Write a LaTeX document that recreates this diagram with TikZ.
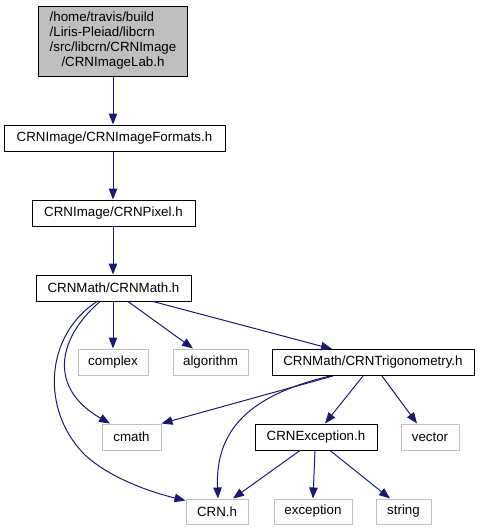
\documentclass[tikz,border=0pt]{standalone}
\usepackage{fontspec}
\setmainfont{Liberation Sans}
\usetikzlibrary{arrows.meta}
\definecolor{edgecol}{HTML}{191970}
\definecolor{graybd}{HTML}{BFBFBF}
\tikzset{
  box/.style={draw=black, line width=1pt, rectangle, inner sep=0pt, minimum height=26pt,
    font=\fontsize{13.33}{15}\selectfont},
  gbox/.style={box, draw=graybd},
  edge/.style={draw=edgecol, line width=1pt, -{Triangle[length=11pt,width=8.5pt]}},
}
\begin{document}
\begin{tikzpicture}[x=1pt,y=-1pt]
\useasboundingbox (0,0) rectangle (480,531);
\node[box, fill=graybd, minimum width=149pt, minimum height=70pt] (top) at (113,41)
  {\begin{tabular}{@{}l@{}}/home/travis/build\\/Liris-Pleiad/libcrn\\/src/libcrn/CRNImage\\\multicolumn{1}{@{}c@{}}{/CRNImageLab.h}\end{tabular}};
\node[box, minimum width=221pt] (formats) at (114.5,138) {CRNImage/CRNImageFormats.h};
\node[box, minimum width=163pt] (pixel) at (113.5,213) {CRNImage/CRNPixel.h};
\node[box, minimum width=155pt] (math) at (113.5,288) {CRNMath/CRNMath.h};
\node[gbox, minimum width=70pt] (complex) at (113,362) {complex};
\node[gbox, minimum width=75pt] (algorithm) at (210.5,362) {algorithm};
\node[box, minimum width=202pt] (trig) at (373,362.5) {CRNMath/CRNTrigonometry.h};
\node[gbox, minimum width=59pt] (cmath) at (131.5,437) {cmath};
\node[box, minimum width=122pt] (exc) at (316,437) {CRNException.h};
\node[gbox, minimum width=58pt] (vector) at (430,437) {vector};
\node[gbox, minimum width=62pt, minimum height=25pt] (crn) at (217,511.5) {CRN.h};
\node[gbox, minimum width=78pt, minimum height=25pt] (exception) at (313,511.5) {exception};
\node[gbox, minimum width=55pt, minimum height=25pt] (string) at (403.5,511.5) {string};

\draw[edge] (top.south) -- (top.south |- formats.north);
\draw[edge] (top.south |- formats.south) -- (top.south |- pixel.north);
\draw[edge] (top.south |- pixel.south) -- (top.south |- math.north);
\draw[edge] (top.south |- math.south) -- (top.south |- complex.north);
\draw[edge] ([xshift=14.5pt]math.south) -- ([xshift=-17.5pt]algorithm.north);
\draw[edge] ([xshift=39.5pt]math.south) -- ([xshift=-41pt]trig.north);
\draw[edge] ([xshift=-13.5pt]math.south) .. controls +(-45,39) and +(-60,-34) .. ([xshift=-21.5pt]cmath.north);
\draw[edge] ([xshift=-16.5pt]math.south) .. controls (45,335) and (40,410) .. (85,455)
  .. controls (110,478) and (150,492) .. ([yshift=-2pt]crn.north west);
\draw[edge] ([xshift=-40pt]trig.south) -- (cmath.north east);
\draw[edge] ([xshift=-43pt]trig.south) .. controls +(-80,19) and +(-3,-69) .. ([xshift=1pt]crn.north);
\draw[edge] ([xshift=-10pt]trig.south) -- ([xshift=9pt]exc.north);
\draw[edge] ([xshift=9pt]trig.south) -- ([xshift=-13pt]vector.north);
\draw[edge] ([xshift=-16pt]exc.south) -- ([xshift=16pt]crn.north);
\draw[edge] ([xshift=-1pt]exc.south) -- (exception.north);
\draw[edge] ([xshift=14pt]exc.south) -- ([xshift=-13.5pt]string.north);
\end{tikzpicture}
\end{document}
